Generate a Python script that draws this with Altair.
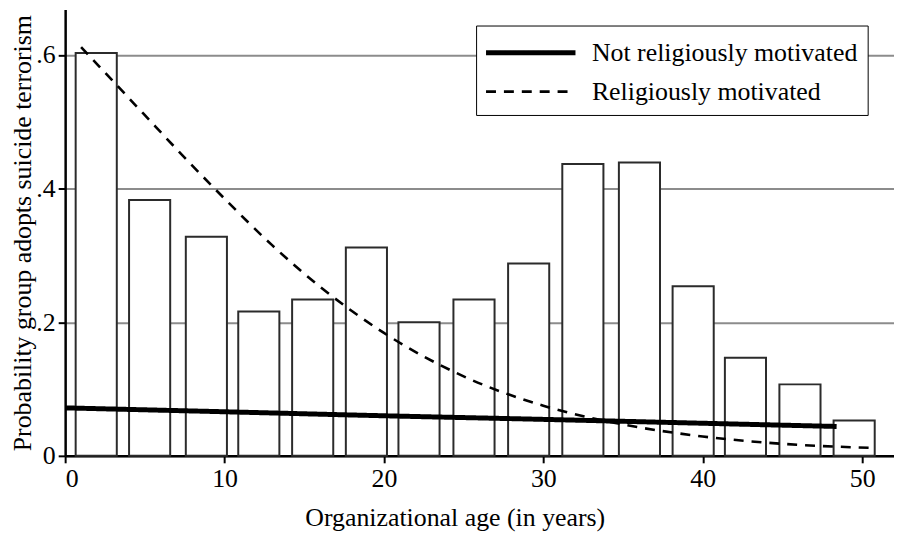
import altair as alt
import pandas as pd

# Histogram-style bars (observed share of groups adopting suicide terrorism)
bar_center = [1.95, 5.3, 8.86, 12.15, 15.53, 18.9, 22.2, 25.65, 29.08, 32.48,
              36.03, 39.4, 42.68, 46.1, 49.5]
bar_height = [0.603, 0.383, 0.328, 0.216, 0.234, 0.312, 0.200, 0.234, 0.288,
              0.437, 0.439, 0.254, 0.147, 0.107, 0.053]
bar_half_width = 1.29

# Predicted probability curves
not_rel_x = [0, 10, 20, 30, 40, 48.4]
not_rel_y = [0.0718, 0.066, 0.060, 0.0546, 0.0488, 0.044]

rel_x = [1, 3, 5, 7, 10, 13, 16, 20, 25, 30, 35, 40, 45, 50.5]
rel_y = [0.612, 0.561, 0.510, 0.459, 0.385, 0.315, 0.253, 0.184, 0.119,
         0.075, 0.047, 0.029, 0.018, 0.012]

series_names = ["Not religiously motivated", "Religiously motivated"]

x_ticks = [0, 10, 20, 30, 40, 50]
y_ticks = [0, 0.2, 0.4, 0.6]

FONT = "Liberation Serif, 'Times New Roman', Times, 'DejaVu Serif', serif"

bars = pd.DataFrame({
    "x0": [c - bar_half_width for c in bar_center],
    "x1": [c + bar_half_width for c in bar_center],
    "p": bar_height,
    "base": [0.0] * len(bar_center),
})

lines = pd.concat([
    pd.DataFrame({"age": not_rel_x, "prob": not_rel_y, "series": series_names[0]}),
    pd.DataFrame({"age": rel_x, "prob": rel_y, "series": series_names[1]}),
], ignore_index=True)

xscale = alt.Scale(domain=[0, 52], nice=False, zero=False)
yscale = alt.Scale(domain=[0, 0.668], nice=False)

xaxis = alt.Axis(
    values=x_ticks, title="Organizational age (in years)", grid=False,
    titleX=392, titleY=70, titleBaseline="alphabetic",
)
yaxis = alt.Axis(
    values=y_ticks, title="Probability group adopts suicide terrorism",
    grid=True,
    labelExpr="datum.value == 0 ? '0' : replace(format(datum.value, '.1f'), '0.', '.')",
    titleX=-34.5, titleBaseline="alphabetic",
)

bar_layer = alt.Chart(bars).mark_bar(
    fill="white", stroke="#2b2b2b", strokeWidth=2
).encode(
    x=alt.X("x0:Q", scale=xscale, axis=xaxis),
    x2="x1:Q",
    y=alt.Y("p:Q", scale=yscale, axis=yaxis),
    y2="base:Q",
)

legend = alt.Legend(
    title=None, orient="none", legendX=413.5, legendY=16,
    symbolType="M-3,0H3", symbolSize=900, symbolStrokeColor="black",
    symbolOffset=27.5,
    labelFont=FONT, labelFontSize=26, labelColor="black", labelLimit=0,
    labelOffset=44, rowPadding=9, padding=10,
    strokeColor="black", fillColor="white",
)

line_layer = alt.Chart(lines).mark_line(color="black", interpolate="monotone").encode(
    x=alt.X("age:Q", scale=xscale),
    y=alt.Y("prob:Q", scale=yscale),
    strokeDash=alt.StrokeDash(
        "series:N",
        scale=alt.Scale(domain=series_names, range=[[1, 0], [10, 8]]),
        legend=legend,
    ),
    strokeWidth=alt.StrokeWidth(
        "series:N",
        scale=alt.Scale(domain=series_names, range=[5, 2.6]),
        legend=legend,
    ),
)

chart = alt.layer(bar_layer, line_layer).properties(
    width=834, height=449,
    autosize=alt.AutoSizeParams(type="none"),
    padding={"left": 57.5, "top": 0, "right": 0, "bottom": 76},
).configure_view(stroke=None).configure_axis(
    labelFont=FONT, labelFontSize=26, labelColor="black",
    titleFont=FONT, titleFontSize=26, titleFontWeight="normal", titleColor="black",
    domainColor="black", domainWidth=2.5, tickColor="black", tickWidth=2,
    tickSize=7, labelPadding=3, gridColor="#8c8c8c", gridWidth=2,
).configure_axisY(
    labelBaseline="middle",
)

chart.save("out.html", embed_options={"renderer": "svg", "actions": False})
